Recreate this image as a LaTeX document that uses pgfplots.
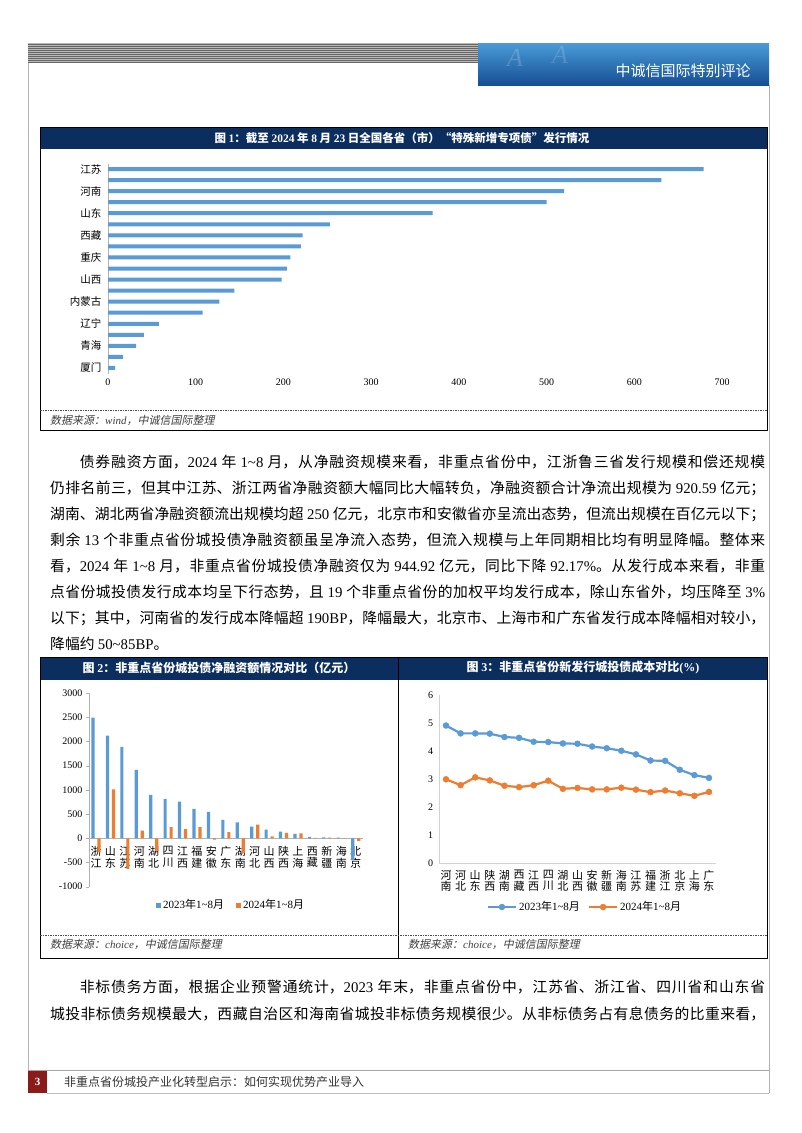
\documentclass[border=0pt]{standalone}
\usepackage{fontspec}
\setmainfont{Noto Sans CJK SC}
\newfontfamily\lat{Liberation Serif}
\newfontfamily\cjkit{Noto Sans CJK SC}[FakeSlant=0.2]
\usepackage{pgfplots}
\pgfplotsset{compat=1.18}
\XeTeXlinebreaklocale "zh"
\XeTeXlinebreakskip=0pt plus 1.5pt minus 0.2pt
\definecolor{navy}{HTML}{0C2E5E}
\definecolor{sblue}{HTML}{5B9BD5}
\definecolor{sorange}{HTML}{ED7D31}
\definecolor{hb1}{HTML}{4A9BD8}
\definecolor{hb2}{HTML}{164F93}
\definecolor{fred}{HTML}{8B1A1A}
\newcommand\nm[1]{{\lat #1}}
\newcommand\bodyfont{\fontsize{14.8}{18}\selectfont}
\newcommand\jline[1]{\parbox[t]{715pt}{\bodyfont\parindent=0pt\parfillskip=0pt #1}}
\newcommand\srcfont{\color{black!75}\cjkit\fontsize{11}{13}\selectfont}
\begin{document}
\begin{tikzpicture}[x=1pt,y=1pt]
\fill[white] (0,0) rectangle (802,-1133);
% ---------- header
\fill[gray!55] (28,-43) rectangle (478,-63);
\foreach \yy in {44,46,...,62} \draw[black!60, line width=0.8pt] (28,-\yy) -- (478,-\yy);
\shade[top color=hb1, bottom color=hb2] (478,-43) rectangle (769,-85);
\node[white, opacity=0.18, font=\lat\itshape\fontsize{26}{26}\selectfont] at (515,-58) {A};
\node[white, opacity=0.15, font=\lat\itshape\fontsize{26}{26}\selectfont] at (560,-55) {A};
\node[white, font=\fontsize{15}{15}\selectfont] at (683,-71) {中诚信国际特别评论};
% page borders
\draw[gray!60, line width=0.6pt] (28,-63) -- (28,-1071);
\draw[gray!60, line width=0.6pt] (769,-85) -- (769,-1093);
% ---------- chart 1 frame
\fill[navy] (40,-127) rectangle (767,-149);
\draw[black, line width=0.8pt] (40,-127) rectangle (767,-430);
\node[white, font=\bfseries\fontsize{11.5}{12}\selectfont] at (402,-138) {图 \nm{1}：截至 \nm{2024} 年 \nm{8} 月 \nm{23} 日全国各省（市）“特殊新增专项债”发行情况};
\draw[black!70, dash pattern=on 1.5pt off 1pt, line width=0.5pt] (40,-410.5) -- (767,-410.5);
\node[anchor=west, inner sep=0] at (50,-420) {\srcfont 数据来源：{\lat\itshape wind}，中诚信国际整理};
\begin{axis}[at={(108pt,-373.5pt)}, anchor=south west, scale only axis, width=614pt, height=210pt,
 xbar, bar width=4pt, xmin=0, xmax=700, ymin=0.5, ymax=19.5, y dir=reverse,
 axis lines*=left, axis line style={-}, x axis line style={draw=none}, y axis line style={draw=gray!60},
 xtick={0,100,...,700}, ytick={1,...,19},
 yticklabels={江苏,,河南,,山东,,西藏,,重庆,,山西,,内蒙古,,辽宁,,青海,,厦门},
 tick style={draw=none}, major tick length=0pt,
 /pgf/number format/assume math mode=true, /pgf/number format/1000 sep={},
 xticklabel style={font=\lat\fontsize{10}{12}\selectfont, yshift=-2pt},
 yticklabel style={font=\fontsize{10.5}{12}\selectfont, xshift=-3pt},
 clip=false]
\addplot[fill=sblue, draw=none] coordinates {
 (679,1) (631,2) (520,3) (500,4) (370,5) (253,6) (222,7) (220,8) (208,9) (204,10)
 (198,11) (144,12) (127,13) (108,14) (58,15) (41,16) (32,17) (17,18) (8,19)};
\end{axis}
% ---------- paragraph 1
\node[anchor=base west, inner sep=0] at (50,-467.6) {\jline{\hspace*{29.6pt}债券融资方面，\nm{2024} 年 \nm{1\textasciitilde 8} 月，从净融资规模来看，非重点省份中，江浙鲁三省发行规模和偿还规模}};
\node[anchor=base west, inner sep=0] at (50,-493.6) {\jline{仍排名前三，但其中江苏、浙江两省净融资额大幅同比大幅转负，净融资额合计净流出规模为 \nm{920.59} 亿元；}};
\node[anchor=base west, inner sep=0] at (50,-519.6) {\jline{湖南、湖北两省净融资额流出规模均超 \nm{250} 亿元，北京市和安徽省亦呈流出态势，但流出规模在百亿元以下；}};
\node[anchor=base west, inner sep=0] at (50,-545.6) {\jline{剩余 \nm{13} 个非重点省份城投债净融资额虽呈净流入态势，但流入规模与上年同期相比均有明显降幅。整体来}};
\node[anchor=base west, inner sep=0] at (50,-571.6) {\jline{看，\nm{2024} 年 \nm{1\textasciitilde 8} 月，非重点省份城投债净融资仅为 \nm{944.92} 亿元，同比下降 \nm{92.17\%}。从发行成本来看，非重}};
\node[anchor=base west, inner sep=0] at (50,-597.6) {\jline{点省份城投债发行成本均呈下行态势，且 \nm{19} 个非重点省份的加权平均发行成本，除山东省外，均压降至 \nm{3\%}}};
\node[anchor=base west, inner sep=0] at (50,-623.6) {\jline{以下；其中，河南省的发行成本降幅超 \nm{190BP}，降幅最大，北京市、上海市和广东省发行成本降幅相对较小，}};
\node[anchor=base west, inner sep=0] at (50,-649.6) {\bodyfont 降幅约 \nm{50\textasciitilde 85BP}。};
% ---------- chart 2 & 3 frames
\fill[navy] (40,-657) rectangle (398,-680);
\fill[navy] (398,-657) rectangle (767,-680);
\draw[black, line width=0.8pt] (40,-657) rectangle (398,-958);
\draw[black, line width=0.8pt] (398,-657) rectangle (767,-958);
\node[white, font=\bfseries\fontsize{12}{12}\selectfont] at (219,-668) {图 \nm{2}：非重点省份城投债净融资额情况对比（亿元）};
\node[white, font=\bfseries\fontsize{12}{12}\selectfont] at (583,-668) {图 \nm{3}：非重点省份新发行城投债成本对比\nm{(\%)}};
\draw[black!70, dash pattern=on 1.5pt off 1pt, line width=0.5pt] (40,-935) -- (767,-935);
\node[anchor=west, inner sep=0] at (50,-944) {\srcfont 数据来源：{\lat\itshape choice}，中诚信国际整理};
\node[anchor=west, inner sep=0] at (408,-944) {\srcfont 数据来源：{\lat\itshape choice}，中诚信国际整理};
% ---------- chart 2 axis
\begin{axis}[at={(88.8pt,-886.7pt)}, anchor=south west, scale only axis, width=274.1pt, height=193.7pt,
 ybar=2.8pt, bar width=3.2pt, ymin=-1000, ymax=3000, xmin=-0.5, xmax=18.5,
 axis y line=left, axis x line=middle, axis line style={-, draw=gray!60},
 hide obscured x ticks=false, hide obscured y ticks=false,
 ytick={-1000,-500,...,3000}, xtick={0,...,18},
 xticklabels={{浙\\江},{山\\东},{江\\苏},{河\\南},{湖\\北},{四\\川},{江\\西},{福\\建},{安\\徽},{广\\东},{湖\\南},{河\\北},{山\\西},{陕\\西},{上\\海},{西\\藏},{新\\疆},{海\\南},{北\\京}},
 x tick style={draw=none}, y tick style={draw=gray!60}, tick align=outside, major tick length=3pt,
 /pgf/number format/assume math mode=true, /pgf/number format/1000 sep={},
 yticklabel style={font=\lat\fontsize{10}{12}\selectfont},
 xticklabel style={align=center, font=\fontsize{11}{11.5}\selectfont, inner sep=0pt, yshift=-5pt},
 legend style={at={(0.519,-0.0945)}, anchor=center, draw=none, fill=none, font=\fontsize{11}{12}\selectfont, legend columns=2, /tikz/every even column/.append style={column sep=10pt}},
 legend image code/.code={\fill[#1] (0pt,-2.5pt) rectangle (5pt,2.5pt);},
 clip=false]
\addplot[fill=sblue, draw=none] coordinates {
 (0,2490) (1,2120) (2,1890) (3,1415) (4,896) (5,812) (6,756) (7,609) (8,546) (9,378)
 (10,331) (11,241) (12,179) (13,138) (14,90) (15,28) (16,21) (17,14) (18,-450)};
\addlegendentry{\nm{2023}年\nm{1\textasciitilde 8}月}
\addplot[fill=sorange, draw=none] coordinates {
 (0,-290) (1,1010) (2,-630) (3,160) (4,-260) (5,230) (6,190) (7,230) (8,-30) (9,126)
 (10,-300) (11,283) (12,40) (13,112) (14,103) (15,8) (16,12) (17,4) (18,-55)};
\addlegendentry{\nm{2024}年\nm{1\textasciitilde 8}月}
\end{axis}
% ---------- chart 3 axis
\begin{axis}[at={(438.7pt,-863pt)}, anchor=south west, scale only axis, width=277.6pt, height=168pt,
 ymin=0, ymax=6, xmin=-0.5, xmax=18.5,
 axis lines*=left, axis line style={-, draw=gray!35},
 ytick={0,...,6}, xtick={0,...,18},
 xticklabels={{河\\南},{河\\北},{山\\东},{陕\\西},{湖\\南},{西\\藏},{江\\西},{四\\川},{湖\\北},{山\\西},{安\\徽},{新\\疆},{海\\南},{江\\苏},{福\\建},{浙\\江},{北\\京},{上\\海},{广\\东}},
 tick style={draw=none}, major tick length=0pt,
 /pgf/number format/assume math mode=true,
 yticklabel style={font=\lat\fontsize{10}{12}\selectfont, xshift=-2pt},
 xticklabel style={align=center, font=\fontsize{11}{11.5}\selectfont, inner sep=0pt, yshift=-7pt},
 legend style={at={(0.527,-0.262)}, anchor=center, draw=none, fill=none, font=\fontsize{11}{12}\selectfont, legend columns=2, /tikz/every even column/.append style={column sep=6pt}},
 legend image code/.code={\draw[#1, mark=none] (0pt,0pt) -- (28pt,0pt); \draw[#1, only marks] plot coordinates {(14pt,0pt)};},
 clip=false]
\addplot[color=sblue, line width=2.2pt, mark=*, mark size=3pt, mark options={line width=0.4pt}] coordinates {
 (0,4.91) (1,4.63) (2,4.63) (3,4.62) (4,4.50) (5,4.47) (6,4.33) (7,4.32) (8,4.27) (9,4.26)
 (10,4.16) (11,4.10) (12,4.01) (13,3.88) (14,3.66) (15,3.65) (16,3.33) (17,3.14) (18,3.04)};
\addlegendentry{\nm{2023}年\nm{1\textasciitilde 8}月}
\addplot[color=sorange, line width=2.2pt, mark=*, mark size=3pt, mark options={line width=0.4pt}] coordinates {
 (0,2.99) (1,2.78) (2,3.06) (3,2.95) (4,2.76) (5,2.71) (6,2.78) (7,2.94) (8,2.65) (9,2.68)
 (10,2.63) (11,2.63) (12,2.69) (13,2.62) (14,2.53) (15,2.59) (16,2.49) (17,2.40) (18,2.54)};
\addlegendentry{\nm{2024}年\nm{1\textasciitilde 8}月}
\end{axis}
% ---------- paragraph 2
\node[anchor=base west, inner sep=0] at (50,-992.6) {\jline{\hspace*{29.6pt}非标债务方面，根据企业预警通统计，\nm{2023} 年末，非重点省份中，江苏省、浙江省、四川省和山东省}};
\node[anchor=base west, inner sep=0] at (50,-1019.6) {\jline{城投非标债务规模最大，西藏自治区和海南省城投非标债务规模很少。从非标债务占有息债务的比重来看，}};
% ---------- footer
\draw[gray!70, line width=1.5pt] (28,-1070.5) -- (769,-1070.5);
\fill[fred] (28,-1071) rectangle (47,-1093);
\node[white, font=\lat\bfseries\fontsize{11}{12}\selectfont] at (37.5,-1082) {3};
\node[anchor=west, inner sep=0, text=black!80, font=\fontsize{12}{13}\selectfont] at (64,-1082) {非重点省份城投产业化转型启示：如何实现优势产业导入};
\draw[gray!50, line width=0.6pt] (47,-1093) -- (769,-1093);
\pgfresetboundingbox
\useasboundingbox (0,0) rectangle (802,-1133);
\end{tikzpicture}
\end{document}
